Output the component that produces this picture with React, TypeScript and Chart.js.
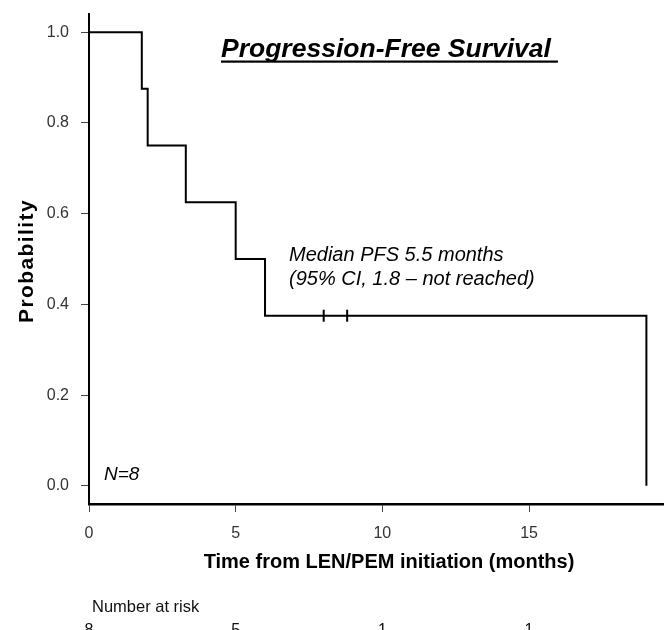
import { useEffect, useRef } from "react";
import { Chart, registerables } from "chart.js";

Chart.register(...registerables);

// Kaplan-Meier step points (time in months, survival probability)
const stepTimes = [0, 1.8, 2.0, 3.3, 5.0, 6.0, 19.0];
const stepSurvival = [1.0, 0.875, 0.75, 0.625, 0.5, 0.375, 0.0];

// Censored observations
const censorTimes = [8.0, 8.8];
const censorSurvival = [0.375, 0.375];

// Axis ticks
const xTicks = [0, 5, 10, 15];
const yTicks = [0.0, 0.2, 0.4, 0.6, 0.8, 1.0];

// Number at risk table
const riskTimes = [0, 5, 10, 15];
const riskCounts = [8, 5, 1, 1];

const titleText = "Progression-Free Survival";
const xTitle = "Time from LEN/PEM initiation (months)";
const yTitle = "Probability";
const medianLine1 = "Median PFS 5.5 months";
const medianLine2 = "(95% CI, 1.8 \u2013 not reached)";
const nText = "N=8";
const riskTitle = "Number at risk";

const FONT = '"Liberation Sans", Arial, sans-serif';
const NARROW = '"Liberation Sans Narrow", "Liberation Sans", Arial, sans-serif';

const PLOT_RIGHT = 664;

const areaPlugin = {
  id: "kmArea",
  afterLayout(chart: any) {
    const xs = chart.scales.x;
    chart.chartArea.right = PLOT_RIGHT;
    chart.chartArea.width = PLOT_RIGHT - chart.chartArea.left;
    xs.right = PLOT_RIGHT;
    xs.width = PLOT_RIGHT - xs.left;
    xs.configure();
  },
};

const textPlugin = {
  id: "kmText",
  afterDraw(chart: any) {
    const ctx = chart.ctx as CanvasRenderingContext2D;
    const xs = chart.scales.x;
    ctx.save();
    ctx.fillStyle = "#000";
    ctx.textBaseline = "alphabetic";

    // Title
    ctx.font = `italic bold 26.5px ${FONT}`;
    ctx.textAlign = "left";
    ctx.fillText(titleText, 221, 57);
    const tw = ctx.measureText(titleText).width;
    ctx.fillRect(221, 60.5, tw + 7, 2.2);

    // Median annotation
    ctx.font = `italic 20px ${FONT}`;
    ctx.fillText(medianLine1, 289, 261);
    ctx.fillText(medianLine2, 289, 285);

    // N=8
    ctx.font = `italic 19px ${FONT}`;
    ctx.fillText(nText, 104, 480);

    // X title
    ctx.font = `bold 20px ${FONT}`;
    ctx.textAlign = "center";
    ctx.fillText(xTitle, 389, 568);

    // Y title
    ctx.save();
    ctx.translate(33, 261);
    ctx.rotate(-Math.PI / 2);
    ctx.font = `bold 21px ${FONT}`;
    (ctx as any).letterSpacing = "1.4px";
    ctx.textAlign = "center";
    ctx.fillText(yTitle, 0, 0);
    (ctx as any).letterSpacing = "0px";
    ctx.restore();

    // Number at risk
    ctx.font = `16.5px ${NARROW}`;
    ctx.textAlign = "left";
    ctx.fillStyle = "#111";
    ctx.fillText(riskTitle, 92, 612);
    ctx.textAlign = "center";
    ctx.font = `16px ${NARROW}`;
    riskTimes.forEach((t, i) => {
      ctx.fillText(String(riskCounts[i]), xs.getPixelForValue(t), 635);
    });

    ctx.restore();
  },
};

export default function App() {
  const canvasRef = useRef<HTMLCanvasElement | null>(null);

  useEffect(() => {
    if (!canvasRef.current) return;
    const chart = new Chart(canvasRef.current, {
      type: "line",
      data: {
        datasets: [
          {
            data: stepTimes.map((t, i) => ({ x: t, y: stepSurvival[i] })),
            borderColor: "#000",
            borderWidth: 2,
            pointRadius: 0,
            stepped: "before",
            fill: false,
          },
          {
            data: censorTimes.map((t, i) => ({ x: t, y: censorSurvival[i] })),
            showLine: false,
            pointStyle: "line",
            rotation: 90,
            pointRadius: 6,
            borderWidth: 2,
            borderColor: "#000",
            backgroundColor: "#000",
          },
        ],
      },
      options: {
        animation: false,
        responsive: false,
        layout: { padding: { top: 14, right: 0, left: 0, bottom: 0 } },
        plugins: { legend: { display: false }, tooltip: { enabled: false } },
        scales: {
          x: {
            type: "linear",
            min: 0,
            max: 19.6,
            afterBuildTicks: (s: any) => {
              s.ticks = xTicks.map((v) => ({ value: v }));
            },
            afterFit: (s: any) => {
              s.height = 126;
              s.paddingLeft = 0;
              s.paddingRight = 0;
            },
            grid: {
              drawOnChartArea: false,
              drawTicks: true,
              tickLength: 8,
              color: "#444",
              lineWidth: 1,
            },
            border: { display: true, color: "#000", width: 2.5 },
            ticks: {
              font: { family: FONT, size: 16 },
              color: "#333",
              padding: 12,
              maxRotation: 0,
              autoSkip: false,
            },
          },
          y: {
            type: "linear",
            min: -0.04,
            max: 1.04,
            afterBuildTicks: (s: any) => {
              s.ticks = yTicks.map((v) => ({ value: v }));
            },
            afterFit: (s: any) => {
              s.width = 89;
              s.paddingTop = 0;
              s.paddingBottom = 0;
            },
            grid: {
              drawOnChartArea: false,
              drawTicks: true,
              tickLength: 8,
              color: "#444",
              lineWidth: 1,
            },
            border: { display: true, color: "#000", width: 2 },
            ticks: {
              font: { family: FONT, size: 16 },
              color: "#333",
              padding: 12,
              callback: (v: any) => Number(v).toFixed(1),
            },
          },
        },
      },
      plugins: [areaPlugin, textPlugin],
    } as any);
    return () => chart.destroy();
  }, []);

  return (
    <div style={{ position: "absolute", left: 0, top: 0, width: 664, height: 630, background: "#fff" }}>
      <canvas ref={canvasRef} width={664} height={630} style={{ width: 664, height: 630, display: "block" }} />
    </div>
  );
}
